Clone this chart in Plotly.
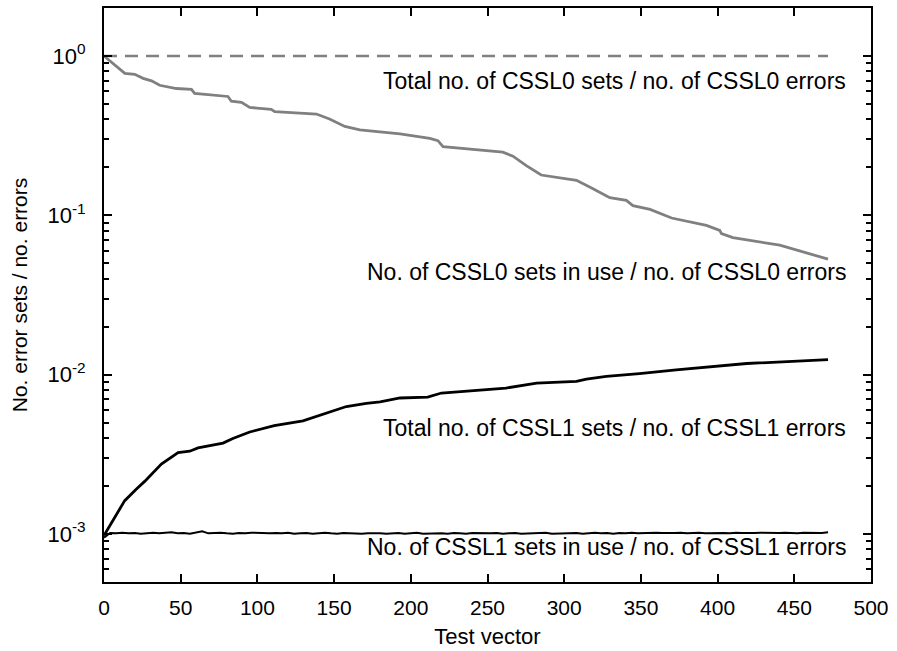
import math
import plotly.graph_objects as go

# ---------------- data ----------------
# dashed: total CSSL0 sets / CSSL0 errors
total0_x = [0, 472]
total0_y = [1.0, 1.0]

# gray: CSSL0 sets in use / CSSL0 errors
use0_x = [0, 6, 13.6, 20, 25.5, 31, 36.3, 47.2, 57, 59.1, 80.8, 83, 89.6, 95, 109, 111.3,
          138.5, 147, 152, 157, 166.8, 180, 193, 212.4, 217.7, 221, 260, 266.6, 275.3,
          285, 308, 318.8, 329.7, 340.5, 344.8, 356, 370, 392.7, 401.4, 402.5, 410,
          440.5, 472]
use0_y = [1.0, 0.891, 0.778, 0.767, 0.724, 0.698, 0.655, 0.625, 0.618, 0.583, 0.557,
          0.520, 0.511, 0.475, 0.463, 0.447, 0.432, 0.402, 0.380, 0.361, 0.344, 0.335,
          0.324, 0.304, 0.294, 0.270, 0.249, 0.235, 0.205, 0.179, 0.166, 0.147, 0.129,
          0.124, 0.115, 0.109, 0.0962, 0.0865, 0.0805, 0.0767, 0.0724, 0.0650, 0.0531]

# black: total CSSL1 sets / CSSL1 errors
total1_x = [0, 13.5, 21, 26.5, 37.4, 48.3, 55.9, 61.3, 77.6, 84, 95, 111, 129.7, 142.8,
            158, 171, 180, 193, 211, 220, 262, 282, 308, 314.5, 327.5, 349, 373, 419, 472]
total1_y = [0.00098, 0.00162, 0.00191, 0.00214, 0.00275, 0.00324, 0.00331, 0.00347,
            0.00372, 0.00398, 0.00437, 0.00479, 0.00513, 0.00562, 0.00631, 0.00661,
            0.00675, 0.00714, 0.00724, 0.00767, 0.00824, 0.00885, 0.00908, 0.00938,
            0.00975, 0.01014, 0.01072, 0.01175, 0.01242]

# black noisy: CSSL1 sets in use / CSSL1 errors (values x 1e-3), every 4 test vectors
use1_step = 4
use1_milli = [
    0.95, 1.015, 1.01, 1.02, 1.01, 1.015, 1.005, 1.015, 1.02, 1.01,
    1.015, 1.025, 1.01, 1.015, 1.005, 1.02, 1.04, 1.01, 1.015, 1.02,
    1.01, 1.005, 1.015, 1.01, 1.02, 1.015, 1.005, 1.01, 1.015, 1.01,
    1.02, 1.005, 1.01, 1.015, 1.005, 1.01, 1.02, 1.01, 1.005, 1.015,
    1.01, 1.015, 1.005, 1.01, 1.015, 1.01, 1.005, 1.01, 1.015, 1.005,
    1.01, 1.02, 1.005, 1.01, 1.015, 1.01, 1.005, 1.015, 1.01, 1.005,
    1.015, 1.01, 1.005, 1.01, 1.015, 1.005, 1.01, 1.015, 1.005, 1.01,
    1.015, 1.01, 1.02, 1.005, 1.01, 1.015, 1.01, 1.015, 1.005, 1.01,
    1.02, 1.01, 1.015, 1.005, 1.015, 1.01, 1.02, 1.01, 1.015, 1.01,
    1.02, 1.015, 1.01, 1.015, 1.02, 1.01, 1.015, 1.02, 1.01, 1.015,
    1.02, 1.015, 1.01, 1.02, 1.015, 1.01, 1.015, 1.02, 1.015, 1.01,
    1.015, 1.02, 1.015, 1.01, 1.02, 1.015, 1.01, 1.015, 1.025,
]
use1_x = [i * use1_step for i in range(len(use1_milli))]
use1_y = [v * 1e-3 for v in use1_milli]

x_ticks = [0, 50, 100, 150, 200, 250, 300, 350, 400, 450, 500]
y_ticks = [1e-3, 1e-2, 1e-1, 1.0]
y_ticktext = ["10<sup>-3</sup>", "10<sup>-2</sup>", "10<sup>-1</sup>", "10<sup>0</sup>"]

labels = [
    ("Total no. of CSSL0 sets / no. of CSSL0 errors", 0.70),
    ("No. of CSSL0 sets in use / no. of CSSL0 errors", 0.0443),
    ("Total no. of CSSL1 sets / no. of CSSL1 errors", 0.00465),
    ("No. of CSSL1 sets in use / no. of CSSL1 errors", 0.000824),
]
label_x = 485

# ---------------- figure ----------------
GRAY = "rgb(128,128,128)"
FONT = "Liberation Sans, Arial, Helvetica, sans-serif"

fig = go.Figure()
fig.add_trace(go.Scatter(x=total0_x, y=total0_y, mode="lines",
                         line=dict(color=GRAY, width=2.5, dash="13px,8px")))
fig.add_trace(go.Scatter(x=use0_x, y=use0_y, mode="lines",
                         line=dict(color=GRAY, width=2.8)))
fig.add_trace(go.Scatter(x=total1_x, y=total1_y, mode="lines",
                         line=dict(color="black", width=2.8)))
fig.add_trace(go.Scatter(x=use1_x, y=use1_y, mode="lines",
                         line=dict(color="black", width=2)))

for text, yv in labels:
    fig.add_annotation(x=label_x, y=math.log10(yv), text=text, showarrow=False,
                       xanchor="right", yanchor="middle",
                       font=dict(family=FONT, size=23, color="black"))

minor_vals = [m * 10 ** e for e in (-4, -3, -2, -1, 0) for m in range(2, 10)]
minor_vals = [v for v in minor_vals if 5e-4 <= v <= 2]

fig.update_layout(
    width=897, height=651,
    margin=dict(l=104, r=26, t=6, b=69),
    paper_bgcolor="white", plot_bgcolor="white",
    showlegend=False,
    font=dict(family=FONT, color="black"),
    xaxis=dict(
        range=[0, 500], tickmode="array", tickvals=x_ticks,
        ticks="inside", ticklen=8, tickwidth=1.5, tickcolor="black",
        showline=True, linewidth=2, linecolor="black", mirror="ticks",
        showgrid=False, zeroline=False,
        tickfont=dict(family=FONT, size=21),
        ticklabelstandoff=6,
        title=dict(text="Test vector", font=dict(family=FONT, size=22), standoff=10),
    ),
    yaxis=dict(
        type="log", range=[math.log10(5e-4), math.log10(2)],
        tickmode="array", tickvals=y_ticks, ticktext=y_ticktext,
        ticks="inside", ticklen=8, tickwidth=1.5, tickcolor="black",
        minor=dict(tickmode="array", tickvals=minor_vals, ticks="inside",
                   ticklen=5, tickwidth=1.5, tickcolor="black", showgrid=False),
        showline=True, linewidth=2, linecolor="black", mirror="ticks",
        showgrid=False, zeroline=False,
        tickfont=dict(family=FONT, size=22),
        ticklabelstandoff=12,
        title=dict(text="No. error sets / no. errors", font=dict(family=FONT, size=21),
                   standoff=14),
    ),
)

fig.write_html("out.html")
